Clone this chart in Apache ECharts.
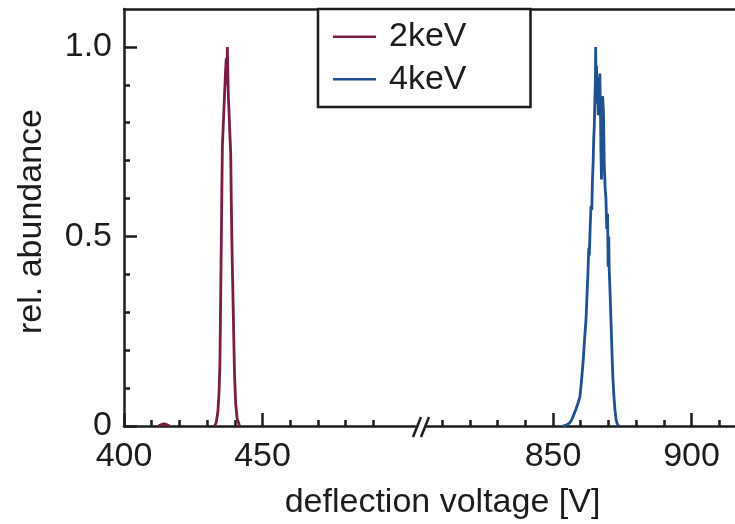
<!DOCTYPE html>
<html>
<head>
<meta charset="utf-8">
<script src="https://cdn.jsdelivr.net/npm/echarts@6.0.0/dist/echarts.min.js"></script>
<style>
  html, body { margin: 0; padding: 0; background: #fff; }
  #chart { width: 735px; height: 524px; }
</style>
</head>
<body>
<div id="chart"></div>
<script>
// Measured spectra: deflection voltage [V] vs. relative abundance
const voltage2keV = [412.5, 413.5, 414.5, 415.5, 416.5, 424, 432.7, 433.3, 433.9, 434.3, 434.6, 434.9, 435.2, 435.5, 435.8, 436.2, 436.6, 436.9, 437.1, 437.3, 437.5, 437.7, 437.9, 438.2, 438.5, 438.7, 438.9, 439.1, 439.4, 439.7, 439.9, 440.3, 440.8, 441.7];
const abundance2keV = [0, 0.004, 0.006, 0.003, 0, '-', 0, 0.01, 0.04, 0.09, 0.16, 0.35, 0.55, 0.74, 0.79, 0.86, 0.93, 0.97, 0.9, 1.0, 0.92, 0.86, 0.83, 0.77, 0.72, 0.6, 0.5, 0.42, 0.31, 0.2, 0.13, 0.06, 0.02, 0];

const voltage4keV = [853.5, 855, 856, 856.7, 857.5, 858.3, 859, 859.7, 860.3, 860.9, 861.4, 861.9, 862.3, 862.6, 862.9, 863.1, 863.4, 863.7, 864.0, 864.2, 864.5, 864.7, 864.9, 865.1, 865.3, 865.4, 865.55, 865.7, 865.9, 866.1, 866.3, 866.5, 866.7, 866.9, 867.1, 867.3, 867.5, 867.7, 867.9, 868.2, 868.5, 868.8, 869.1, 869.4, 869.7, 869.9, 870.1, 870.3, 870.6, 871, 871.3, 871.6, 872, 872.4, 872.8, 873.3, 873.8];
const abundance4keV = [0, 0.003, 0.008, 0.016, 0.03, 0.045, 0.06, 0.077, 0.12, 0.174, 0.23, 0.28, 0.35, 0.4, 0.47, 0.45, 0.52, 0.58, 0.57, 0.64, 0.7, 0.76, 0.79, 0.86, 0.91, 1.0, 0.88, 0.95, 0.85, 0.92, 0.82, 0.9, 0.87, 0.93, 0.84, 0.72, 0.65, 0.78, 0.87, 0.83, 0.69, 0.63, 0.6, 0.52, 0.56, 0.42, 0.5, 0.41, 0.35, 0.26, 0.19, 0.13, 0.077, 0.04, 0.015, 0.004, 0];

// Broken x axis: two voltage windows
const leftRange = [400, 505];
const rightRange = [804.5, 915.7];
const leftMajorTicks = [400, 450];
const leftMinorTicks = [410, 420, 430, 440, 460, 470, 480, 490];
const rightMajorTicks = [850, 900];
const rightMinorTicks = [810, 820, 830, 840, 860, 870, 880, 890, 910];
const yRange = [0, 1.1];
const yMajorTicks = [0, 0.5, 1.0];
const yMinorTicks = [0.1, 0.2, 0.3, 0.4, 0.6, 0.7, 0.8, 0.9];

const seriesNames = ['2keV', '4keV'];
const seriesColors = ['#7a1c45', '#1f5192'];

const FONT = 'Liberation Sans';
const INK = '#1c1c1c';
const AXIS_W = 2.5;

const zip = (xs, ys) => xs.map((x, i) => [x, ys[i]]);

function majorX(gridIndex, range, ticks) {
  return {
    type: 'value', gridIndex, position: 'bottom', min: range[0], max: range[1],
    axisLine: { show: true, onZero: false, lineStyle: { color: INK, width: AXIS_W } },
    axisTick: { show: true, inside: true, length: 13, customValues: ticks, lineStyle: { color: INK, width: AXIS_W } },
    axisLabel: { show: true, customValues: ticks, margin: 14, fontFamily: FONT, fontSize: 34, color: INK },
    splitLine: { show: false }
  };
}
function minorX(gridIndex, range, ticks) {
  return {
    type: 'value', gridIndex, position: 'bottom', min: range[0], max: range[1],
    axisLine: { show: false, onZero: false },
    axisTick: { show: true, inside: true, length: 6, customValues: ticks, lineStyle: { color: INK, width: AXIS_W } },
    axisLabel: { show: false },
    splitLine: { show: false }
  };
}
function frameX(gridIndex, range) {
  return {
    type: 'value', gridIndex, position: 'top', min: range[0], max: range[1],
    axisLine: { show: true, onZero: false, lineStyle: { color: INK, width: AXIS_W } },
    axisTick: { show: false }, axisLabel: { show: false }, splitLine: { show: false }
  };
}

const chart = echarts.init(document.getElementById('chart'), null, { renderer: 'canvas' });

const option = {
  animation: false,
  backgroundColor: '#ffffff',
  textStyle: { fontFamily: FONT, color: INK },
  grid: [
    { left: 124, width: 291, top: 9, bottom: 98, containLabel: false, outerBoundsMode: 'none' },
    { left: 427, right: 0, top: 9, bottom: 98, containLabel: false, outerBoundsMode: 'none' }
  ],
  xAxis: [
    majorX(0, leftRange, leftMajorTicks),
    minorX(0, leftRange, leftMinorTicks),
    frameX(0, leftRange),
    majorX(1, rightRange, rightMajorTicks),
    minorX(1, rightRange, rightMinorTicks),
    frameX(1, rightRange)
  ],
  yAxis: [
    {
      type: 'value', gridIndex: 0, position: 'left', min: yRange[0], max: yRange[1],
      axisLine: { show: true, onZero: false, lineStyle: { color: INK, width: AXIS_W } },
      axisTick: { show: true, inside: true, length: 13, customValues: yMajorTicks, lineStyle: { color: INK, width: AXIS_W } },
      axisLabel: {
        show: true, customValues: yMajorTicks, margin: 12, fontFamily: FONT, fontSize: 34, color: INK,
        formatter: v => (v === 0 ? '0' : v.toFixed(1))
      },
      splitLine: { show: false }
    },
    {
      type: 'value', gridIndex: 0, position: 'left', min: yRange[0], max: yRange[1],
      axisLine: { show: false },
      axisTick: { show: true, inside: true, length: 6, customValues: yMinorTicks, lineStyle: { color: INK, width: AXIS_W } },
      axisLabel: { show: false }, splitLine: { show: false }
    },
    { type: 'value', gridIndex: 1, min: yRange[0], max: yRange[1], show: false }
  ],
  legend: {
    data: seriesNames,
    orient: 'vertical',
    left: 318, top: 9,
    padding: [10.7, 64, 10.7, 15],
    itemGap: 8.6,
    itemWidth: 43, itemHeight: 2.5,
    icon: 'rect',
    backgroundColor: '#ffffff',
    borderColor: INK, borderWidth: 2.5,
    textStyle: { fontFamily: FONT, fontSize: 34, lineHeight: 34, color: INK, padding: [0, 0, 0, 8] }
  },
  series: [
    {
      name: seriesNames[0], type: 'line', xAxisIndex: 0, yAxisIndex: 0,
      data: zip(voltage2keV, abundance2keV),
      showSymbol: false, symbol: 'none', connectNulls: false,
      lineStyle: { color: seriesColors[0], width: 2.8 },
      itemStyle: { color: seriesColors[0] }, z: 3
    },
    {
      name: seriesNames[1], type: 'line', xAxisIndex: 3, yAxisIndex: 2,
      data: zip(voltage4keV, abundance4keV),
      showSymbol: false, symbol: 'none',
      lineStyle: { color: seriesColors[1], width: 2.8 },
      itemStyle: { color: seriesColors[1] }, z: 3
    }
  ]
};
chart.setOption(option);

// Break marker "//" between the two axis windows, plus the axis titles
const leftEnd = chart.convertToPixel({ xAxisIndex: 0 }, leftRange[1]);
const rightStart = chart.convertToPixel({ xAxisIndex: 3 }, rightRange[0]);
const baseY = chart.convertToPixel({ yAxisIndex: 0 }, 0);
const cx = (leftEnd + rightStart) / 2;
const plotTop = chart.convertToPixel({ yAxisIndex: 0 }, yRange[1]);

const slash = dx => ({
  type: 'line',
  shape: { x1: cx + dx - 4, y1: baseY + 11, x2: cx + dx + 4, y2: baseY - 9 },
  style: { stroke: INK, lineWidth: 2.5 },
  z: 10
});

chart.setOption({
  graphic: [
    slash(-4),
    slash(4),
    {
      type: 'text',
      x: 442.5, y: 503,
      style: {
        text: 'deflection voltage [V]', font: '34px "' + FONT + '"',
        fill: INK, align: 'center', verticalAlign: 'middle'
      }
    },
    {
      type: 'text',
      x: 32, y: (plotTop + baseY) / 2 + 4,
      rotation: Math.PI / 2,
      style: {
        text: 'rel. abundance', font: '34px "' + FONT + '"',
        fill: INK, align: 'center', verticalAlign: 'middle'
      }
    }
  ]
});
</script>
</body>
</html>
